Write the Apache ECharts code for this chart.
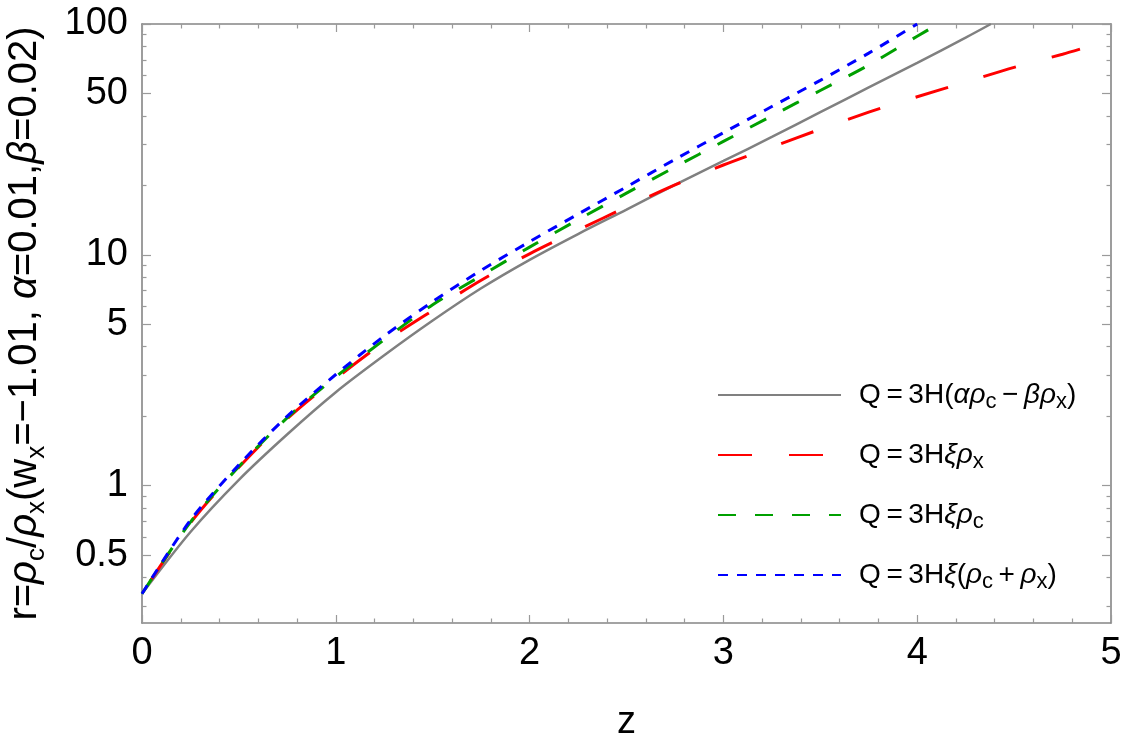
<!DOCTYPE html>
<html>
<head>
    <meta charset="utf-8" />
    <title>r vs z</title>
    <script src="https://cdn.jsdelivr.net/npm/echarts@6.0.0/dist/echarts.min.js"></script>
    <style>
        html, body { margin: 0; padding: 0; background: #fff; }
        #chart { width: 1125px; height: 746px; }
    </style>
</head>
<body>
    <div id="chart"></div>
    <script>
        // values
        var zGray = [0, 0.25, 0.5, 0.75, 1, 1.25, 1.5, 1.75, 2, 2.25, 2.5, 2.75, 3, 3.25, 3.5, 3.75, 4, 4.25, 4.38];
        var rGray = [0.34, 0.63, 1.06, 1.67, 2.54, 3.67, 5.19, 7.16, 9.51, 12.3, 15.7, 20.1, 25.5, 32.4, 41.5, 53.1, 67.9, 87.3, 100];

        var zRed = [0, 0.25, 0.5, 0.75, 1, 1.25, 1.5, 1.75, 2, 2.25, 2.5, 2.75, 3, 3.25, 3.5, 3.75, 4, 4.25, 4.5, 4.75, 4.84];
        var rRed = [0.34, 0.69, 1.20, 1.95, 2.91, 4.19, 5.74, 7.76, 10.1, 12.8, 16.1, 20.1, 24.5, 29.3, 35.0, 41.5, 48.4, 56.0, 64.9, 74.0, 77.8];

        var zGreen = [0, 0.25, 0.5, 0.75, 1, 1.25, 1.5, 1.75, 2, 2.25, 2.5, 2.75, 3, 3.25, 3.5, 3.75, 4, 4.11];
        var rGreen = [0.34, 0.695, 1.21, 1.97, 2.96, 4.29, 6.08, 8.11, 10.8, 14.2, 18.5, 24.0, 31.0, 40.0, 51.5, 66.4, 88.5, 100];

        var zBlue = [0, 0.25, 0.5, 0.75, 1, 1.25, 1.5, 1.75, 2, 2.25, 2.5, 2.75, 3, 3.25, 3.5, 3.75, 4];
        var rBlue = [0.34, 0.708, 1.23, 2.00, 3.03, 4.45, 6.27, 8.57, 11.4, 15.0, 19.7, 25.9, 33.8, 43.9, 57.0, 74.8, 100];

        var yMajor = [0.5, 1, 5, 10, 50, 100];
        var yMinor = [0.3, 0.4, 0.6, 0.7, 0.8, 0.9, 2, 3, 4, 6, 7, 8, 9, 20, 30, 40, 60, 70, 80, 90];
        var seriesNames = ['Q=3H(αρc−βρx)', 'Q=3Hξρx', 'Q=3Hξρc', 'Q=3Hξ(ρc+ρx)'];

        // thin spaces around operators, like the original typesetting
        var legendLabels = {
            'Q=3H(αρc−βρx)': '{n|Q\u2009=\u20093H(}{i|αρ}{s|c}{n|\u2009−\u2009}{i|βρ}{s|x}{n|)}',
            'Q=3Hξρx': '{n|Q\u2009=\u20093H}{i|ξρ}{s|x}',
            'Q=3Hξρc': '{n|Q\u2009=\u20093H}{i|ξρ}{s|c}',
            'Q=3Hξ(ρc+ρx)': '{n|Q\u2009=\u20093H}{i|ξ}{n|(}{i|ρ}{s|c}{n|\u2009+\u2009}{i|ρ}{s|x}{n|)}'
        };

        function pairs(zs, rs) {
            var out = [];
            for (var i = 0; i < zs.length; i++) {
                out.push([zs[i], rs[i]]);
            }
            return out;
        }

        var font = 'Liberation Sans, Arial, sans-serif';
        var frameColor = '#858585';
        var tickColor = '#9a9a9a';
        var yMin = 0.254, yMax = 100;

        function yAxisDef(pos, values, len, withLabels, withLine) {
            return {
                type: 'log',
                position: pos,
                min: yMin,
                max: yMax,
                axisLine: { show: withLine, lineStyle: { color: frameColor, width: 1.6 } },
                axisTick: { show: true, inside: true, length: len, customValues: values,
                            lineStyle: { color: tickColor, width: 1.2 } },
                axisLabel: { show: withLabels, customValues: yMajor, margin: 14,
                             fontSize: 38, fontFamily: font, color: '#000',
                             formatter: function (v) { return String(v); } },
                splitLine: { show: false },
                minorTick: { show: false }
            };
        }

        var yAxes = [
            yAxisDef('left', yMajor, 9, true, true),
            yAxisDef('left', yMinor, 4.5, false, false),
            yAxisDef('right', yMajor, 9, false, true),
            yAxisDef('right', yMinor, 4.5, false, false)
        ];
        yAxes[0].name = '{n|r=}{i|ρ}{s|c}{n|/}{i|ρ}{s|x}{n|(w}{s|x}{n|=−1.01, }{i|α}{n|=0.01,}{i|β}{n|=0.02)}';
        yAxes[0].nameLocation = 'middle';
        yAxes[0].nameRotate = 90;
        yAxes[0].nameGap = 92;
        yAxes[0].nameTextStyle = {
            rich: {
                n: { fontSize: 40, fontFamily: font, color: '#000', lineHeight: 50 },
                i: { fontSize: 40, fontFamily: font, color: '#000', lineHeight: 50, fontStyle: 'italic' },
                s: { fontSize: 26, fontFamily: font, color: '#000', lineHeight: 26, verticalAlign: 'bottom' }
            }
        };

        function xAxisDef(pos, withLabels) {
            return {
                type: 'value',
                position: pos,
                min: 0,
                max: 5,
                interval: 1,
                axisLine: { show: true, lineStyle: { color: frameColor, width: 1.6 } },
                axisTick: { show: true, inside: true, length: 8, lineStyle: { color: tickColor, width: 1.2 } },
                minorTick: { show: true, splitNumber: 5, length: 4.5, lineStyle: { color: tickColor, width: 1.2 } },
                axisLabel: { show: withLabels, margin: 12, fontSize: 38, fontFamily: font, color: '#000' },
                splitLine: { show: false }
            };
        }

        var xAxes = [xAxisDef('bottom', true), xAxisDef('top', false)];
        xAxes[0].name = 'z';
        xAxes[0].nameLocation = 'middle';
        xAxes[0].nameGap = 81;
        xAxes[0].nameTextStyle = { fontSize: 38, fontFamily: font, color: '#000' };

        function lineSeries(name, data, color, width, dash, offset) {
            return {
                name: name,
                type: 'line',
                data: data,
                xAxisIndex: 0,
                yAxisIndex: 0,
                symbol: 'none',
                smooth: 0.3,
                clip: true,
                lineStyle: { color: color, width: width, type: dash, dashOffset: offset || 0 },
                itemStyle: { color: color },
                emphasis: { disabled: true }
            };
        }

        var chart = echarts.init(document.getElementById('chart'), null, { renderer: 'canvas' });

        chart.setOption({
            animation: false,
            backgroundColor: '#fff',
            grid: { left: 142, top: 24, width: 969, height: 599, containLabel: false, outerBoundsMode: 'none' },
            xAxis: xAxes,
            yAxis: yAxes,
            legend: {
                orient: 'vertical',
                left: 712,
                top: 376,
                itemWidth: 123,
                itemHeight: 14,
                itemGap: 28,
                data: [
                    { name: seriesNames[0] },
                    { name: seriesNames[1], lineStyle: { dashOffset: 0 } },
                    { name: seriesNames[2] },
                    { name: seriesNames[3] }
                ],
                itemStyle: { opacity: 0 },
                formatter: function (name) { return legendLabels[name]; },
                textStyle: {
                    padding: [0, 0, 0, 13],
                    rich: {
                        n: { fontSize: 28, fontFamily: font, color: '#000', lineHeight: 36 },
                        i: { fontSize: 28, fontFamily: font, color: '#000', lineHeight: 36, fontStyle: 'italic' },
                        s: { fontSize: 22, fontFamily: font, color: '#000', lineHeight: 22, verticalAlign: 'bottom' }
                    }
                },
                selectedMode: false
            },
            series: [
                lineSeries(seriesNames[0], pairs(zGray, rGray), '#808080', 2.5, 'solid'),
                lineSeries(seriesNames[1], pairs(zRed, rRed), '#ff0000', 3, [34, 37], 55),
                lineSeries(seriesNames[2], pairs(zGreen, rGreen), '#00a000', 3, [18, 19]),
                lineSeries(seriesNames[3], pairs(zBlue, rBlue), '#0000ff', 3, [10, 9])
            ]
        });
    </script>
</body>
</html>
